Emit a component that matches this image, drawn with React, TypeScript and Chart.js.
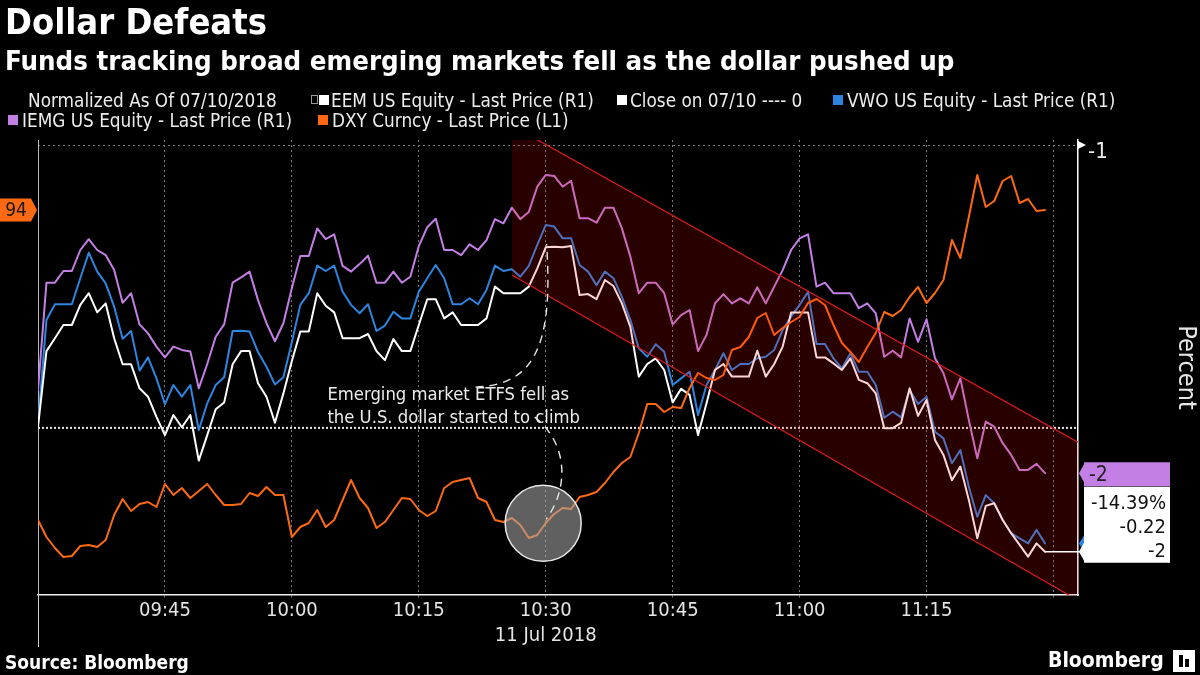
import React, { useEffect, useRef } from 'react';
import { Chart, registerables } from 'chart.js';

Chart.register(...registerables);

// ---------- data (minute bars from 09:30, 11 Jul 2018) ----------
const sessionStart = '09:30';
const sessionDate = '11 Jul 2018';

// EEM US Equity - Last Price (R1), percent
const eemValues = [
  -1.939, -1.687, -1.644, -1.600, -1.600, -1.533, -1.494, -1.558, -1.528, -1.644,
  -1.731, -1.731, -1.811, -1.839, -1.906, -1.967, -1.900, -1.941, -1.900, -2.052,
  -1.967, -1.881, -1.858, -1.731, -1.687, -1.687, -1.794, -1.839, -1.926, -1.828,
  -1.720, -1.622, -1.622, -1.494, -1.536, -1.558, -1.644, -1.644, -1.644, -1.630,
  -1.687, -1.717, -1.647, -1.687, -1.687, -1.600, -1.514, -1.514, -1.578, -1.558,
  -1.600, -1.600, -1.600, -1.578, -1.472, -1.494, -1.494, -1.494, -1.472, -1.411,
  -1.341, -1.339, -1.341, -1.337, -1.500, -1.497, -1.514, -1.450, -1.470, -1.528,
  -1.606, -1.772, -1.730, -1.711, -1.750, -1.858, -1.813, -1.833, -1.967, -1.861,
  -1.750, -1.730, -1.772, -1.772, -1.772, -1.686, -1.772, -1.730, -1.672, -1.558,
  -1.558, -1.558, -1.708, -1.708, -1.728, -1.750, -1.711, -1.783, -1.794, -1.828,
  -1.944, -1.944, -1.926, -1.811, -1.903, -1.850, -1.983, -2.033, -2.117, -2.072,
  -2.183, -2.311, -2.203, -2.194, -2.250, -2.294, -2.333, -2.372, -2.328, -2.356,
];

// VWO US Equity - Last Price (R1), percent
const vwoValues = [
  -1.928, -1.583, -1.531, -1.531, -1.531, -1.444, -1.359, -1.422, -1.461, -1.539,
  -1.646, -1.620, -1.752, -1.708, -1.778, -1.864, -1.800, -1.839, -1.800, -1.950,
  -1.861, -1.800, -1.774, -1.620, -1.619, -1.622, -1.690, -1.739, -1.798, -1.774,
  -1.657, -1.533, -1.494, -1.402, -1.420, -1.402, -1.489, -1.533, -1.561, -1.531,
  -1.620, -1.602, -1.556, -1.578, -1.578, -1.489, -1.444, -1.400, -1.444, -1.531,
  -1.531, -1.511, -1.531, -1.483, -1.402, -1.420, -1.414, -1.439, -1.403, -1.333,
  -1.267, -1.272, -1.311, -1.311, -1.400, -1.422, -1.467, -1.422, -1.444, -1.506,
  -1.583, -1.678, -1.706, -1.664, -1.689, -1.800, -1.778, -1.756, -1.900, -1.800,
  -1.750, -1.694, -1.750, -1.730, -1.730, -1.711, -1.706, -1.683, -1.617, -1.572,
  -1.533, -1.489, -1.663, -1.663, -1.711, -1.744, -1.694, -1.756, -1.756, -1.800,
  -1.909, -1.889, -1.908, -1.817, -1.863, -1.839, -1.956, -1.978, -2.061, -2.017,
  -2.139, -2.239, -2.167, -2.194, -2.250, -2.294, -2.311, -2.328, -2.283, -2.328,
];

// IEMG US Equity - Last Price (R1), percent
const iemgValues = [
  -1.817, -1.459, -1.459, -1.420, -1.420, -1.350, -1.314, -1.350, -1.367, -1.417,
  -1.526, -1.494, -1.598, -1.628, -1.672, -1.708, -1.672, -1.683, -1.688, -1.811,
  -1.730, -1.639, -1.598, -1.459, -1.441, -1.422, -1.517, -1.594, -1.654, -1.594,
  -1.477, -1.370, -1.370, -1.278, -1.314, -1.298, -1.403, -1.422, -1.397, -1.369,
  -1.459, -1.459, -1.422, -1.459, -1.439, -1.337, -1.274, -1.246, -1.350, -1.350,
  -1.367, -1.331, -1.350, -1.317, -1.247, -1.261, -1.209, -1.247, -1.223, -1.139,
  -1.100, -1.103, -1.139, -1.119, -1.244, -1.244, -1.259, -1.209, -1.209, -1.278,
  -1.372, -1.494, -1.459, -1.459, -1.494, -1.598, -1.567, -1.550, -1.687, -1.633,
  -1.528, -1.497, -1.528, -1.511, -1.528, -1.474, -1.528, -1.472, -1.417, -1.350,
  -1.311, -1.298, -1.472, -1.459, -1.494, -1.494, -1.494, -1.544, -1.528, -1.561,
  -1.706, -1.686, -1.708, -1.578, -1.656, -1.581, -1.711, -1.761, -1.848, -1.778,
  -1.917, -2.044, -1.922, -1.939, -1.994, -2.033, -2.083, -2.083, -2.063, -2.094,
];

// DXY Curncy - Last Price (L1)
const dxyValues = [
  94.170, 94.153, 94.142, 94.133, 94.134, 94.144, 94.145, 94.143, 94.150, 94.175,
  94.191, 94.179, 94.186, 94.188, 94.183, 94.206, 94.195, 94.202, 94.192, 94.199,
  94.206, 94.195, 94.185, 94.185, 94.186, 94.197, 94.194, 94.203, 94.195, 94.195,
  94.153, 94.163, 94.167, 94.180, 94.163, 94.170, 94.190, 94.210, 94.192, 94.182,
  94.162, 94.168, 94.180, 94.192, 94.191, 94.180, 94.174, 94.179, 94.202, 94.208,
  94.210, 94.212, 94.192, 94.188, 94.170, 94.168, 94.172, 94.165, 94.152, 94.155,
  94.167, 94.176, 94.182, 94.181, 94.193, 94.195, 94.198, 94.207, 94.218, 94.227,
  94.233, 94.257, 94.286, 94.286, 94.278, 94.283, 94.282, 94.302, 94.317, 94.312,
  94.310, 94.315, 94.340, 94.343, 94.353, 94.372, 94.377, 94.355, 94.362, 94.368,
  94.373, 94.387, 94.391, 94.385, 94.365, 94.347, 94.338, 94.328, 94.343, 94.357,
  94.378, 94.374, 94.380, 94.393, 94.403, 94.387, 94.397, 94.410, 94.450, 94.432,
  94.473, 94.515, 94.483, 94.489, 94.509, 94.514, 94.487, 94.491, 94.479, 94.480,
];

// "Close on 07/10" reference level on the right axis
const closeLevel = -1.943;

const xTickMinutes = [15, 30, 45, 60, 75, 90, 105, 120];
const xTickLabels = ['09:45', '10:00', '10:15', '10:30', '10:45', '11:00', '11:15', ''];
const dateTickMinute = 60;
const rightTickValues = [-1];
const eemTagExtraLines = ['-14.39%', '-0.22'];

// annotation geometry in data units (minute, right-axis value)
const channelUpper = [[56, -0.935], [122.9, -1.991]];
const channelLower = [[56, -1.433], [122.9, -2.518]];
const circleCenter = [59.7, -2.261];
const noteAnchor = [34.2, -1.833];
const noteLines = ['Emerging market ETFS fell as', 'the U.S. dollar started to climb'];

// ---------- styles ----------
const FONT = '"DejaVu Sans Condensed", "DejaVu Sans", sans-serif';
const C_EEM = '#ffffff';
const C_VWO = '#2e85df';
const C_IEMG = '#c47fe4';
const C_DXY = '#fb6a12';
const X_MAX = 122.9;

const minutes = eemValues.map((_, i) => i);
const toPoints = (vals: number[]) => vals.map((v, i) => ({ x: minutes[i], y: v }));

function tagPath(ctx: any, left: number, right: number, top: number, bottom: number, tipX: number, tipY: number, half: number) {
  ctx.beginPath();
  ctx.moveTo(left, top);
  ctx.lineTo(right, top);
  ctx.lineTo(right, bottom);
  ctx.lineTo(left, bottom);
  ctx.lineTo(left, Math.min(bottom, tipY + half));
  ctx.lineTo(tipX, tipY);
  ctx.lineTo(left, Math.max(top, tipY - half));
  ctx.closePath();
}

const overlayPlugin = {
  id: 'overlay',
  afterDatasetsDraw(chart: any) {
    const { ctx, chartArea: ca, scales } = chart;
    const px = (m: number) => scales.x.getPixelForValue(m);
    const py = (v: number) => scales.yR.getPixelForValue(v);

    ctx.save();
    ctx.beginPath();
    ctx.rect(ca.left, ca.top, ca.right - ca.left, ca.bottom - ca.top);
    ctx.clip();

    // downward channel
    ctx.beginPath();
    ctx.moveTo(px(channelUpper[0][0]), py(channelUpper[0][1]));
    ctx.lineTo(px(channelUpper[1][0]), py(channelUpper[1][1]));
    ctx.lineTo(px(channelLower[1][0]), py(channelLower[1][1]));
    ctx.lineTo(px(channelLower[0][0]), py(channelLower[0][1]));
    ctx.closePath();
    ctx.fillStyle = 'rgba(255,0,0,0.16)';
    ctx.fill();
    ctx.strokeStyle = '#dc1c1c';
    ctx.lineWidth = 1.2;
    ctx.beginPath();
    ctx.moveTo(px(channelUpper[0][0]), py(channelUpper[0][1]));
    ctx.lineTo(px(channelUpper[1][0]), py(channelUpper[1][1]));
    ctx.moveTo(px(channelLower[0][0]), py(channelLower[0][1]));
    ctx.lineTo(px(channelLower[1][0]), py(channelLower[1][1]));
    ctx.stroke();

    // highlight circle
    const cx = px(circleCenter[0]);
    const cy = py(circleCenter[1]);
    ctx.beginPath();
    ctx.arc(cx, cy, 38, 0, Math.PI * 2);
    ctx.fillStyle = 'rgba(165,165,165,0.58)';
    ctx.fill();
    ctx.strokeStyle = '#e8e8e8';
    ctx.lineWidth = 1.5;
    ctx.stroke();
    ctx.restore();

    // EEM extension to its tag
    const eLast = eemValues[eemValues.length - 1];
    ctx.save();
    ctx.strokeStyle = '#ffffff';
    ctx.lineWidth = 1.5;
    ctx.beginPath();
    ctx.moveTo(px(minutes[minutes.length - 1]), py(eLast));
    ctx.lineTo(ca.right + 2, py(eLast));
    ctx.stroke();
    ctx.restore();

    // annotation text
    const tx = px(noteAnchor[0]);
    const ty = py(noteAnchor[1]);
    ctx.save();
    ctx.font = `18.3px ${FONT}`;
    ctx.fillStyle = '#ececec';
    ctx.textAlign = 'left';
    ctx.textBaseline = 'middle';
    noteLines.forEach((t, i) => ctx.fillText(t, tx, ty + i * 23));

    // dashed connectors
    ctx.strokeStyle = '#e6e6e6';
    ctx.lineWidth = 1.4;
    ctx.setLineDash([8, 6]);
    const peakX = px(60.1);
    const peakY = py(-1.33);
    ctx.beginPath();
    ctx.moveTo(px(51.7), py(-1.807));
    ctx.bezierCurveTo(px(58.7), py(-1.8), px(60.9), py(-1.667), peakX, peakY);
    ctx.stroke();
    ctx.beginPath();
    ctx.moveTo(px(58.7), py(-1.907));
    ctx.bezierCurveTo(px(62.85), py(-2.0), px(62.6), py(-2.15), cx + 3, cy - 4);
    ctx.stroke();
    ctx.restore();
  },
  afterDraw(chart: any) {
    const { ctx, chartArea: ca, scales } = chart;
    const pyR = (v: number) => scales.yR.getPixelForValue(v);
    const pyL = (v: number) => scales.yL.getPixelForValue(v);
    ctx.save();

    // left axis extension to date row
    ctx.strokeStyle = '#cfcfcf';
    ctx.lineWidth = 1;
    ctx.beginPath();
    ctx.moveTo(ca.left + 0.5, ca.bottom);
    ctx.lineTo(ca.left + 0.5, 647);
    ctx.stroke();

    // right tick marker
    ctx.fillStyle = '#ffffff';
    rightTickValues.forEach((v) => {
      const y = pyR(v);
      ctx.beginPath();
      ctx.moveTo(ca.right, y - 4);
      ctx.lineTo(ca.right + 8, y);
      ctx.lineTo(ca.right, y + 4);
      ctx.closePath();
      ctx.fill();
    });

    // DXY tag (left)
    const dLast = dxyValues[dxyValues.length - 1];
    const dy = pyL(dLast);
    ctx.fillStyle = C_DXY;
    ctx.beginPath();
    ctx.moveTo(0, dy - 11.5);
    ctx.lineTo(31, dy - 11.5);
    ctx.lineTo(37, dy);
    ctx.lineTo(31, dy + 11.5);
    ctx.lineTo(0, dy + 11.5);
    ctx.closePath();
    ctx.fill();
    ctx.fillStyle = '#1a1a1a';
    ctx.font = `19px ${FONT}`;
    ctx.textAlign = 'center';
    ctx.textBaseline = 'middle';
    ctx.fillText(String(Math.round(dLast)), 16, dy + 1);

    const L = ca.right + 6;
    const R = 1170;
    const tip = ca.right + 1;

    // VWO tag (mostly hidden)
    const vLast = vwoValues[vwoValues.length - 1];
    const vy = pyR(vLast);
    ctx.fillStyle = C_VWO;
    tagPath(ctx, L, R, vy - 11, vy + 11, tip, vy, 8);
    ctx.fill();

    // IEMG tag
    const iLast = iemgValues[iemgValues.length - 1];
    const iy = pyR(iLast);
    ctx.fillStyle = C_IEMG;
    tagPath(ctx, L, R, iy - 11, iy + 13, tip, iy, 9);
    ctx.fill();
    ctx.fillStyle = '#222';
    ctx.font = `21px ${FONT}`;
    ctx.textAlign = 'left';
    ctx.fillText(String(Math.round(iLast)), L + 5, iy + 2);

    // EEM tag with extra rows
    const eLast = eemValues[eemValues.length - 1];
    const ey = pyR(eLast);
    ctx.fillStyle = '#ffffff';
    tagPath(ctx, L, R, ey - 65, ey + 11, tip, ey, 9);
    ctx.fill();
    ctx.fillStyle = '#111';
    ctx.font = `20px ${FONT}`;
    ctx.textAlign = 'right';
    const rows = [...eemTagExtraLines, String(Math.round(eLast))];
    rows.forEach((t, i) => ctx.fillText(t, R - 4, ey - 48 + i * 24));
    ctx.restore();
  },
};

export default function App() {
  const canvasRef = useRef<HTMLCanvasElement>(null);

  useEffect(() => {
    document.body.style.margin = '0';
    document.body.style.background = '#000';
    const canvas = canvasRef.current as HTMLCanvasElement;
    const chart = new Chart(canvas, {
      type: 'line',
      data: {
        datasets: [
          { label: 'DXY Curncy - Last Price (L1)', data: toPoints(dxyValues), yAxisID: 'yL', borderColor: C_DXY, borderWidth: 2, pointRadius: 0, tension: 0 },
          { label: 'EEM US Equity - Last Price (R1)', data: toPoints(eemValues), yAxisID: 'yR', borderColor: C_EEM, borderWidth: 2, pointRadius: 0, tension: 0 },
          { label: 'VWO US Equity - Last Price (R1)', data: toPoints(vwoValues), yAxisID: 'yR', borderColor: C_VWO, borderWidth: 2, pointRadius: 0, tension: 0 },
          { label: 'IEMG US Equity - Last Price (R1)', data: toPoints(iemgValues), yAxisID: 'yR', borderColor: C_IEMG, borderWidth: 2, pointRadius: 0, tension: 0 },
          { label: 'Close on 07/10', data: [{ x: 0, y: closeLevel }, { x: X_MAX, y: closeLevel }], yAxisID: 'yR', borderColor: '#e8e8e8', borderWidth: 2, borderDash: [2, 2], borderCapStyle: 'butt', pointRadius: 0 },
        ],
      },
      options: {
        responsive: false,
        animation: false,
        devicePixelRatio: 1,
        layout: { padding: { top: 140, left: 0, right: 0, bottom: 0 } },
        plugins: { legend: { display: false }, tooltip: { enabled: false }, title: { display: false } },
        elements: { line: { borderJoinStyle: 'round', borderCapStyle: 'round' } },
        scales: {
          x: {
            type: 'linear',
            min: 0,
            max: X_MAX,
            afterBuildTicks: (s: any) => { s.ticks = xTickMinutes.map((v) => ({ value: v })); },
            afterFit: (s: any) => { s.height = 80; },
            ticks: {
              color: '#e4e4e4',
              font: { family: FONT, size: 20, lineHeight: 1.25 },
              padding: 0,
              maxRotation: 0,
              autoSkip: false,
              callback: (v: any) => {
                const i = xTickMinutes.indexOf(Number(v));
                const lab = i >= 0 ? xTickLabels[i] : '';
                return Number(v) === dateTickMinute ? [lab, sessionDate] : lab;
              },
            },
            grid: { color: '#7a7a7a', lineWidth: 1, tickLength: 3, tickColor: '#7a7a7a', tickBorderDash: [2, 2] },
            border: { color: '#f0f0f0', width: 1.5, dash: [2, 3] },
          },
          yL: {
            type: 'linear',
            position: 'left',
            min: 94.095,
            max: 94.55,
            afterFit: (s: any) => { s.width = 38; },
            ticks: { display: false },
            grid: { display: false },
            border: { color: '#b8b8b8', width: 1 },
          },
          yR: {
            type: 'linear',
            position: 'right',
            min: -2.5,
            max: -0.98333,
            afterBuildTicks: (s: any) => { s.ticks = rightTickValues.map((v) => ({ value: v })); },
            afterFit: (s: any) => { s.width = 122; },
            ticks: { color: '#eeeeee', font: { family: FONT, size: 22 }, padding: 10, labelOffset: 7, callback: (v: any) => String(v) },
            grid: { color: '#7a7a7a', lineWidth: 1, drawTicks: false },
            border: { color: '#ffffff', width: 1.5, dash: [2, 3] },
            title: { display: true, text: 'Percent', color: '#e6e6e6', font: { family: FONT, size: 25 }, padding: { top: 0, bottom: 0 } },
          },
        },
      },
      plugins: [overlayPlugin],
    } as any);
    return () => chart.destroy();
  }, []);

  const legendText = { position: 'absolute' as const, fontSize: 18.8, lineHeight: '19px', color: '#ececec', whiteSpace: 'nowrap' as const };
  const sq = (left: number, top: number, color: string) => (
    <div style={{ position: 'absolute', left, top, width: 10, height: 10, background: color }} />
  );

  return (
    <div style={{ position: 'fixed', left: 0, top: 0, width: 1200, height: 675, background: '#000', overflow: 'hidden', fontFamily: FONT }}>
      <canvas ref={canvasRef} width={1200} height={675} style={{ position: 'absolute', left: 0, top: 0, width: 1200, height: 675 }} />
      <div style={{ position: 'absolute', left: 5, top: 4, fontSize: 36, lineHeight: '36px', fontWeight: 'bold', color: '#fff', whiteSpace: 'nowrap' }}>Dollar Defeats</div>
      <div style={{ position: 'absolute', left: 5, top: 47, fontSize: 27.4, lineHeight: '27px', fontWeight: 'bold', color: '#fff', whiteSpace: 'nowrap' }}>Funds tracking broad emerging markets fell as the dollar pushed up</div>

      <div style={{ ...legendText, left: 28, top: 91 }}>Normalized As Of 07/10/2018</div>
      <div style={{ position: 'absolute', left: 311, top: 95, width: 5, height: 7, border: '1px solid #9a9a9a' }} />
      {sq(319, 95, C_EEM)}
      <div style={{ ...legendText, left: 331, top: 91 }}>EEM US Equity - Last Price (R1)</div>
      {sq(617, 95, '#ffffff')}
      <div style={{ ...legendText, left: 630, top: 91 }}>Close on 07/10 ---- 0</div>
      {sq(833, 95, C_VWO)}
      <div style={{ ...legendText, left: 847, top: 91 }}>VWO US Equity - Last Price (R1)</div>
      {sq(8, 115, C_IEMG)}
      <div style={{ ...legendText, left: 22, top: 111 }}>IEMG US Equity - Last Price (R1)</div>
      {sq(318, 115, C_DXY)}
      <div style={{ ...legendText, left: 332, top: 111 }}>DXY Curncy - Last Price (L1)</div>

      <div style={{ position: 'absolute', left: 5, top: 653, fontSize: 19, lineHeight: '19px', fontWeight: 'bold', color: '#fff' }}>Source: Bloomberg</div>
      <div style={{ position: 'absolute', left: 1048, top: 650, fontSize: 21, lineHeight: '21px', fontWeight: 'bold', color: '#fff' }}>Bloomberg</div>
      <div style={{ position: 'absolute', left: 1173, top: 650, width: 22, height: 22, background: '#fff' }}>
        <div style={{ position: 'absolute', left: 6, top: 5, width: 4, height: 12, background: '#000' }} />
        <div style={{ position: 'absolute', left: 12, top: 9, width: 4, height: 8, background: '#000' }} />
      </div>
    </div>
  );
}
